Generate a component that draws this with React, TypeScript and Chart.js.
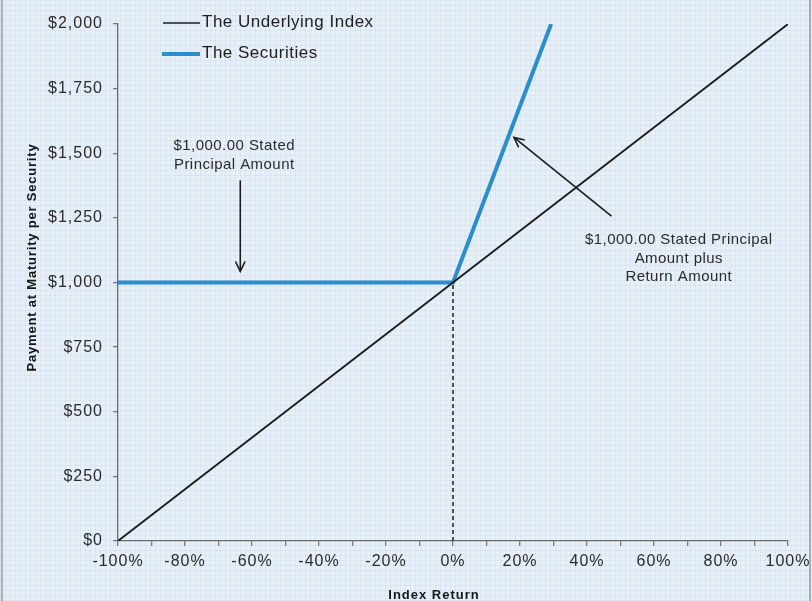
import { useEffect, useRef } from "react";
import { Chart, registerables } from "chart.js";

Chart.register(...registerables);

// ---- data ----
const indexReturns = [-100, 100];
const indexPayments = [0, 2000];
const securityReturns = [-100, 0, 29.3];
const securityPayments = [1000, 1000, 2000];
const dashReturns = [0, 0];
const dashPayments = [0, 1000];
const yTickValues = [0, 250, 500, 750, 1000, 1250, 1500, 1750, 2000];
const xTickValues = [-100, -90, -80, -70, -60, -50, -40, -30, -20, -10, 0, 10, 20, 30, 40, 50, 60, 70, 80, 90, 100];
const xLabelEvery = 20;

const legendLabels = ["The Underlying Index", "The Securities"];
const yTitle = "Payment at Maturity per Security";
const xTitle = "Index Return";

const principalNote = ["$1,000.00 Stated", "Principal Amount"];
const principalNoteAt = { x: -65.3, y: 1527 };
const principalArrow = { x1: -63.5, y1: 1395, x2: -63.5, y2: 1043 };

const returnNote = ["$1,000.00 Stated Principal", "Amount plus", "Return Amount"];
const returnNoteAt = { x: 67.4, y: 1164 };
const returnArrow = { x1: 47.3, y1: 1257, x2: 18.2, y2: 1561 };

const FONT = "'Liberation Sans', Arial, Helvetica, sans-serif";
const BLUE = "#2b8ecb";
const INK = "#1c1c1c";
const TEXT = "#2b2b2b";

function setSpacing(ctx: any, v: string) {
  try {
    ctx.letterSpacing = v;
  } catch (e) {
    /* ignore */
  }
}

function drawArrow(ctx: CanvasRenderingContext2D, x1: number, y1: number, x2: number, y2: number) {
  ctx.save();
  ctx.strokeStyle = INK;
  ctx.lineWidth = 1.6;
  ctx.beginPath();
  ctx.moveTo(x1, y1);
  ctx.lineTo(x2, y2);
  ctx.stroke();
  const ang = Math.atan2(y2 - y1, x2 - x1);
  const len = 11;
  const spread = 0.45;
  ctx.beginPath();
  ctx.moveTo(x2 - len * Math.cos(ang - spread), y2 - len * Math.sin(ang - spread));
  ctx.lineTo(x2, y2);
  ctx.lineTo(x2 - len * Math.cos(ang + spread), y2 - len * Math.sin(ang + spread));
  ctx.stroke();
  ctx.restore();
}

const decorPlugin = {
  id: "decor",
  beforeLayout(chart: any) {
    setSpacing(chart.ctx, "1px");
  },
  beforeDraw(chart: any) {
    const { ctx, width, height } = chart;
    ctx.save();
    ctx.fillStyle = "#e7f0f8";
    ctx.fillRect(0, 0, width, height);
    ctx.strokeStyle = "rgba(205,220,234,0.5)";
    ctx.lineWidth = 1;
    ctx.beginPath();
    for (let x = 0.5; x < width; x += 5) {
      ctx.moveTo(x, 0);
      ctx.lineTo(x, height);
    }
    for (let y = 0.5; y < height; y += 5) {
      ctx.moveTo(0, y);
      ctx.lineTo(width, y);
    }
    ctx.stroke();
    ctx.strokeStyle = "#9a9a9a";
    ctx.lineWidth = 1.5;
    ctx.beginPath();
    ctx.moveTo(2, 0);
    ctx.lineTo(2, height);
    ctx.moveTo(width - 2, 0);
    ctx.lineTo(width - 2, height);
    ctx.stroke();
    ctx.restore();
    setSpacing(ctx, "1px");
  },
  afterDraw(chart: any) {
    const { ctx, chartArea } = chart;
    const xs = chart.scales.x;
    const ys = chart.scales.y;
    ctx.save();

    // legend
    const lx = chartArea.left + 45;
    ctx.lineCap = "butt";
    ctx.strokeStyle = INK;
    ctx.lineWidth = 1.6;
    ctx.beginPath();
    ctx.moveTo(lx, chartArea.top - 1);
    ctx.lineTo(lx + 37, chartArea.top - 1);
    ctx.stroke();
    ctx.strokeStyle = BLUE;
    ctx.lineWidth = 4;
    ctx.beginPath();
    ctx.moveTo(lx - 1, chartArea.top + 30);
    ctx.lineTo(lx + 37, chartArea.top + 30);
    ctx.stroke();
    ctx.fillStyle = "#1e1e1e";
    ctx.font = `17px ${FONT}`;
    setSpacing(ctx, "0.5px");
    ctx.textAlign = "left";
    ctx.textBaseline = "middle";
    ctx.fillText(legendLabels[0], lx + 39, chartArea.top - 2);
    ctx.fillText(legendLabels[1], lx + 39, chartArea.top + 29);

    // annotations
    ctx.fillStyle = TEXT;
    ctx.font = `15px ${FONT}`;
    setSpacing(ctx, "0.45px");
    ctx.textAlign = "center";
    const p0x = xs.getPixelForValue(principalNoteAt.x);
    const p0y = ys.getPixelForValue(principalNoteAt.y);
    principalNote.forEach((t, i) => ctx.fillText(t, p0x, p0y + i * 19));
    const r0x = xs.getPixelForValue(returnNoteAt.x);
    const r0y = ys.getPixelForValue(returnNoteAt.y);
    returnNote.forEach((t, i) => ctx.fillText(t, r0x, r0y + i * 18.3));

    drawArrow(
      ctx,
      xs.getPixelForValue(principalArrow.x1),
      ys.getPixelForValue(principalArrow.y1),
      xs.getPixelForValue(principalArrow.x2),
      ys.getPixelForValue(principalArrow.y2)
    );
    drawArrow(
      ctx,
      xs.getPixelForValue(returnArrow.x1),
      ys.getPixelForValue(returnArrow.y1),
      xs.getPixelForValue(returnArrow.x2),
      ys.getPixelForValue(returnArrow.y2)
    );

    // axis titles
    ctx.fillStyle = "#161616";
    ctx.font = `bold 13px ${FONT}`;
    setSpacing(ctx, "1px");
    ctx.textAlign = "center";
    ctx.textBaseline = "middle";
    ctx.fillText(xTitle, (chartArea.left + chartArea.right) / 2 - 19, chartArea.bottom + 54);
    setSpacing(ctx, "0.8px");
    ctx.translate(32, (chartArea.top + chartArea.bottom) / 2 - 25);
    ctx.rotate(-Math.PI / 2);
    ctx.fillText(yTitle, 0, 0);
    ctx.restore();
  },
};

export default function App() {
  const ref = useRef<HTMLCanvasElement | null>(null);

  useEffect(() => {
    if (!ref.current) return;
    const toPts = (xs: number[], ys: number[]) => xs.map((x, i) => ({ x, y: ys[i] }));
    const chart = new Chart(ref.current, {
      type: "line",
      data: {
        datasets: [
          {
            label: "dash",
            data: toPts(dashReturns, dashPayments),
            borderColor: INK,
            borderWidth: 1.5,
            borderDash: [4, 3],
            pointRadius: 0,
            fill: false,
          },
          {
            label: legendLabels[0],
            data: toPts(indexReturns, indexPayments),
            borderColor: INK,
            borderWidth: 1.8,
            pointRadius: 0,
            fill: false,
          },
          {
            label: legendLabels[1],
            data: toPts(securityReturns, securityPayments),
            borderColor: BLUE,
            borderWidth: 4,
            pointRadius: 0,
            fill: false,
          },
        ],
      },
      options: {
        responsive: false,
        animation: false,
        events: [],
        layout: { padding: { top: 24, right: 24, left: 0, bottom: 0 } },
        plugins: { legend: { display: false }, tooltip: { enabled: false }, title: { display: false } },
        scales: {
          x: {
            type: "linear",
            min: -100,
            max: 100,
            afterBuildTicks: (scale: any) => {
              scale.ticks = xTickValues.map((v) => ({ value: v }));
            },
            afterFit: (scale: any) => {
              scale.height = 60;
              scale.paddingRight = 0;
              scale.paddingLeft = 0;
            },
            ticks: {
              autoSkip: false,
              maxRotation: 0,
              padding: 6,
              color: TEXT,
              font: { family: FONT, size: 16 },
              callback: (v: any) => (Number(v) % xLabelEvery === 0 ? `${v}%` : ""),
            },
            grid: { drawOnChartArea: false, drawTicks: true, tickLength: 5, color: "#7a7a7a", lineWidth: 1.3 },
            border: { display: true, color: "#6a6a6a", width: 1.3 },
          },
          y: {
            type: "linear",
            min: 0,
            max: 2000,
            afterBuildTicks: (scale: any) => {
              scale.ticks = yTickValues.map((v) => ({ value: v }));
            },
            afterFit: (scale: any) => {
              scale.width = 118;
            },
            ticks: {
              padding: 10,
              color: TEXT,
              font: { family: FONT, size: 16 },
              callback: (v: any) => "$" + Number(v).toLocaleString("en-US"),
            },
            grid: { drawOnChartArea: false, drawTicks: true, tickLength: 5, color: "#7a7a7a", lineWidth: 1.3 },
            border: { display: true, color: "#6a6a6a", width: 1.3 },
          },
        },
      },
      plugins: [decorPlugin],
    });
    return () => chart.destroy();
  }, []);

  return (
    <div style={{ position: "absolute", left: 0, top: 0, width: 812, height: 601 }}>
      <canvas ref={ref} width={812} height={601} style={{ display: "block", width: 812, height: 601 }} />
    </div>
  );
}
